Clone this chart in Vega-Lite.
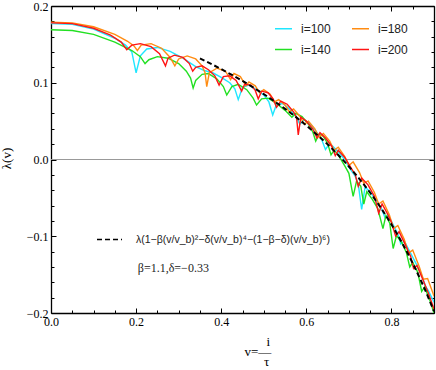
{
  "$schema": "https://vega.github.io/schema/vega-lite/v6.json",
  "width": 383,
  "height": 307,
  "autosize": {"type": "none"},
  "padding": {"left": 51, "top": 6, "right": 2, "bottom": 57},
  "background": "white",
  "config": {
    "view": {"stroke": null},
    "axis": {
      "grid": false,
      "domainColor": "black",
      "domainWidth": 1.3,
      "tickColor": "black",
      "tickWidth": 1,
      "labelFont": "Liberation Serif",
      "labelFontSize": 12,
      "labelColor": "black",
      "titleFont": "Liberation Serif",
      "titleFontSize": 13,
      "titleFontWeight": "normal",
      "titleColor": "black",
      "labelOverlap": false,
      "labelFlush": false
    }
  },
  "datasets": {
    "curves": [
      {"v":0,"lam":0.177,"s":"i=100"},{"v":0.05,"lam":0.176,"s":"i=100"},{"v":0.1,"lam":0.170,"s":"i=100"},{"v":0.15,"lam":0.158,"s":"i=100"},{"v":0.175,"lam":0.149,"s":"i=100"},{"v":0.19,"lam":0.140,"s":"i=100"},{"v":0.2,"lam":0.113,"s":"i=100"},{"v":0.21,"lam":0.135,"s":"i=100"},{"v":0.225,"lam":0.144,"s":"i=100"},{"v":0.25,"lam":0.146,"s":"i=100"},{"v":0.28,"lam":0.141,"s":"i=100"},{"v":0.31,"lam":0.132,"s":"i=100"},{"v":0.34,"lam":0.121,"s":"i=100"},{"v":0.36,"lam":0.116,"s":"i=100"},{"v":0.38,"lam":0.113,"s":"i=100"},{"v":0.40,"lam":0.107,"s":"i=100"},{"v":0.42,"lam":0.100,"s":"i=100"},{"v":0.432,"lam":0.092,"s":"i=100"},{"v":0.44,"lam":0.078,"s":"i=100"},{"v":0.45,"lam":0.094,"s":"i=100"},{"v":0.465,"lam":0.097,"s":"i=100"},{"v":0.48,"lam":0.092,"s":"i=100"},{"v":0.50,"lam":0.084,"s":"i=100"},{"v":0.512,"lam":0.075,"s":"i=100"},{"v":0.521,"lam":0.058,"s":"i=100"},{"v":0.53,"lam":0.072,"s":"i=100"},{"v":0.545,"lam":0.073,"s":"i=100"},{"v":0.56,"lam":0.066,"s":"i=100"},{"v":0.575,"lam":0.056,"s":"i=100"},{"v":0.585,"lam":0.046,"s":"i=100"},{"v":0.595,"lam":0.052,"s":"i=100"},{"v":0.61,"lam":0.046,"s":"i=100"},{"v":0.625,"lam":0.035,"s":"i=100"},{"v":0.636,"lam":0.026,"s":"i=100"},{"v":0.645,"lam":0.013,"s":"i=100"},{"v":0.655,"lam":0.021,"s":"i=100"},{"v":0.675,"lam":0.010,"s":"i=100"},{"v":0.69,"lam":0.0,"s":"i=100"},{"v":0.70,"lam":-0.010,"s":"i=100"},{"v":0.715,"lam":-0.022,"s":"i=100"},{"v":0.722,"lam":-0.032,"s":"i=100"},{"v":0.73,"lam":-0.065,"s":"i=100"},{"v":0.738,"lam":-0.036,"s":"i=100"},{"v":0.75,"lam":-0.042,"s":"i=100"},{"v":0.765,"lam":-0.055,"s":"i=100"},{"v":0.775,"lam":-0.062,"s":"i=100"},{"v":0.785,"lam":-0.076,"s":"i=100"},{"v":0.792,"lam":-0.072,"s":"i=100"},{"v":0.805,"lam":-0.086,"s":"i=100"},{"v":0.815,"lam":-0.097,"s":"i=100"},{"v":0.822,"lam":-0.110,"s":"i=100"},{"v":0.83,"lam":-0.106,"s":"i=100"},{"v":0.845,"lam":-0.122,"s":"i=100"},{"v":0.86,"lam":-0.138,"s":"i=100"},{"v":0.872,"lam":-0.152,"s":"i=100"},{"v":0.88,"lam":-0.165,"s":"i=100"},{"v":0.887,"lam":-0.171,"s":"i=100"},{"v":0.9,"lam":-0.186,"s":"i=100"},
      {"v":0,"lam":0.169,"s":"i=140"},{"v":0.05,"lam":0.168,"s":"i=140"},{"v":0.1,"lam":0.163,"s":"i=140"},{"v":0.15,"lam":0.153,"s":"i=140"},{"v":0.19,"lam":0.142,"s":"i=140"},{"v":0.21,"lam":0.134,"s":"i=140"},{"v":0.221,"lam":0.125,"s":"i=140"},{"v":0.23,"lam":0.130,"s":"i=140"},{"v":0.25,"lam":0.134,"s":"i=140"},{"v":0.275,"lam":0.132,"s":"i=140"},{"v":0.30,"lam":0.125,"s":"i=140"},{"v":0.318,"lam":0.115,"s":"i=140"},{"v":0.328,"lam":0.106,"s":"i=140"},{"v":0.334,"lam":0.093,"s":"i=140"},{"v":0.34,"lam":0.103,"s":"i=140"},{"v":0.355,"lam":0.111,"s":"i=140"},{"v":0.37,"lam":0.112,"s":"i=140"},{"v":0.39,"lam":0.105,"s":"i=140"},{"v":0.405,"lam":0.095,"s":"i=140"},{"v":0.413,"lam":0.084,"s":"i=140"},{"v":0.425,"lam":0.095,"s":"i=140"},{"v":0.44,"lam":0.098,"s":"i=140"},{"v":0.46,"lam":0.091,"s":"i=140"},{"v":0.475,"lam":0.080,"s":"i=140"},{"v":0.483,"lam":0.071,"s":"i=140"},{"v":0.495,"lam":0.079,"s":"i=140"},{"v":0.51,"lam":0.080,"s":"i=140"},{"v":0.53,"lam":0.073,"s":"i=140"},{"v":0.55,"lam":0.064,"s":"i=140"},{"v":0.566,"lam":0.055,"s":"i=140"},{"v":0.575,"lam":0.060,"s":"i=140"},{"v":0.59,"lam":0.056,"s":"i=140"},{"v":0.605,"lam":0.046,"s":"i=140"},{"v":0.615,"lam":0.036,"s":"i=140"},{"v":0.622,"lam":0.024,"s":"i=140"},{"v":0.63,"lam":0.033,"s":"i=140"},{"v":0.64,"lam":0.030,"s":"i=140"},{"v":0.65,"lam":0.021,"s":"i=140"},{"v":0.658,"lam":0.006,"s":"i=140"},{"v":0.665,"lam":0.012,"s":"i=140"},{"v":0.675,"lam":0.006,"s":"i=140"},{"v":0.69,"lam":-0.008,"s":"i=140"},{"v":0.70,"lam":-0.018,"s":"i=140"},{"v":0.71,"lam":-0.048,"s":"i=140"},{"v":0.718,"lam":-0.028,"s":"i=140"},{"v":0.728,"lam":-0.035,"s":"i=140"},{"v":0.735,"lam":-0.058,"s":"i=140"},{"v":0.742,"lam":-0.042,"s":"i=140"},{"v":0.755,"lam":-0.052,"s":"i=140"},{"v":0.768,"lam":-0.064,"s":"i=140"},{"v":0.78,"lam":-0.090,"s":"i=140"},{"v":0.787,"lam":-0.073,"s":"i=140"},{"v":0.796,"lam":-0.083,"s":"i=140"},{"v":0.804,"lam":-0.116,"s":"i=140"},{"v":0.812,"lam":-0.099,"s":"i=140"},{"v":0.825,"lam":-0.109,"s":"i=140"},{"v":0.835,"lam":-0.121,"s":"i=140"},{"v":0.843,"lam":-0.140,"s":"i=140"},{"v":0.85,"lam":-0.134,"s":"i=140"},{"v":0.862,"lam":-0.147,"s":"i=140"},{"v":0.871,"lam":-0.172,"s":"i=140"},{"v":0.878,"lam":-0.166,"s":"i=140"},{"v":0.89,"lam":-0.183,"s":"i=140"},{"v":0.9,"lam":-0.200,"s":"i=140"},
      {"v":0,"lam":0.179,"s":"i=180"},{"v":0.05,"lam":0.178,"s":"i=180"},{"v":0.1,"lam":0.173,"s":"i=180"},{"v":0.15,"lam":0.163,"s":"i=180"},{"v":0.18,"lam":0.154,"s":"i=180"},{"v":0.195,"lam":0.148,"s":"i=180"},{"v":0.203,"lam":0.142,"s":"i=180"},{"v":0.212,"lam":0.149,"s":"i=180"},{"v":0.235,"lam":0.151,"s":"i=180"},{"v":0.26,"lam":0.145,"s":"i=180"},{"v":0.28,"lam":0.133,"s":"i=180"},{"v":0.291,"lam":0.122,"s":"i=180"},{"v":0.30,"lam":0.131,"s":"i=180"},{"v":0.32,"lam":0.135,"s":"i=180"},{"v":0.34,"lam":0.131,"s":"i=180"},{"v":0.355,"lam":0.122,"s":"i=180"},{"v":0.362,"lam":0.113,"s":"i=180"},{"v":0.366,"lam":0.095,"s":"i=180"},{"v":0.372,"lam":0.113,"s":"i=180"},{"v":0.39,"lam":0.119,"s":"i=180"},{"v":0.41,"lam":0.115,"s":"i=180"},{"v":0.422,"lam":0.104,"s":"i=180"},{"v":0.43,"lam":0.112,"s":"i=180"},{"v":0.445,"lam":0.108,"s":"i=180"},{"v":0.458,"lam":0.096,"s":"i=180"},{"v":0.465,"lam":0.101,"s":"i=180"},{"v":0.48,"lam":0.096,"s":"i=180"},{"v":0.49,"lam":0.087,"s":"i=180"},{"v":0.50,"lam":0.091,"s":"i=180"},{"v":0.515,"lam":0.085,"s":"i=180"},{"v":0.525,"lam":0.075,"s":"i=180"},{"v":0.535,"lam":0.078,"s":"i=180"},{"v":0.55,"lam":0.071,"s":"i=180"},{"v":0.56,"lam":0.062,"s":"i=180"},{"v":0.57,"lam":0.066,"s":"i=180"},{"v":0.585,"lam":0.056,"s":"i=180"},{"v":0.595,"lam":0.046,"s":"i=180"},{"v":0.605,"lam":0.050,"s":"i=180"},{"v":0.62,"lam":0.040,"s":"i=180"},{"v":0.63,"lam":0.029,"s":"i=180"},{"v":0.64,"lam":0.034,"s":"i=180"},{"v":0.655,"lam":0.024,"s":"i=180"},{"v":0.665,"lam":0.012,"s":"i=180"},{"v":0.675,"lam":0.016,"s":"i=180"},{"v":0.69,"lam":0.004,"s":"i=180"},{"v":0.70,"lam":-0.008,"s":"i=180"},{"v":0.71,"lam":-0.003,"s":"i=180"},{"v":0.725,"lam":-0.017,"s":"i=180"},{"v":0.735,"lam":-0.031,"s":"i=180"},{"v":0.745,"lam":-0.028,"s":"i=180"},{"v":0.76,"lam":-0.043,"s":"i=180"},{"v":0.77,"lam":-0.058,"s":"i=180"},{"v":0.78,"lam":-0.054,"s":"i=180"},{"v":0.795,"lam":-0.072,"s":"i=180"},{"v":0.805,"lam":-0.090,"s":"i=180"},{"v":0.815,"lam":-0.086,"s":"i=180"},{"v":0.83,"lam":-0.104,"s":"i=180"},{"v":0.84,"lam":-0.122,"s":"i=180"},{"v":0.85,"lam":-0.118,"s":"i=180"},{"v":0.865,"lam":-0.139,"s":"i=180"},{"v":0.875,"lam":-0.156,"s":"i=180"},{"v":0.885,"lam":-0.155,"s":"i=180"},{"v":0.9,"lam":-0.178,"s":"i=180"},
      {"v":0,"lam":0.178,"s":"i=200"},{"v":0.05,"lam":0.177,"s":"i=200"},{"v":0.1,"lam":0.171,"s":"i=200"},{"v":0.14,"lam":0.162,"s":"i=200"},{"v":0.165,"lam":0.153,"s":"i=200"},{"v":0.178,"lam":0.143,"s":"i=200"},{"v":0.19,"lam":0.149,"s":"i=200"},{"v":0.21,"lam":0.151,"s":"i=200"},{"v":0.235,"lam":0.147,"s":"i=200"},{"v":0.255,"lam":0.138,"s":"i=200"},{"v":0.269,"lam":0.122,"s":"i=200"},{"v":0.275,"lam":0.132,"s":"i=200"},{"v":0.29,"lam":0.136,"s":"i=200"},{"v":0.31,"lam":0.133,"s":"i=200"},{"v":0.325,"lam":0.125,"s":"i=200"},{"v":0.333,"lam":0.115,"s":"i=200"},{"v":0.34,"lam":0.120,"s":"i=200"},{"v":0.355,"lam":0.122,"s":"i=200"},{"v":0.37,"lam":0.117,"s":"i=200"},{"v":0.385,"lam":0.109,"s":"i=200"},{"v":0.395,"lam":0.097,"s":"i=200"},{"v":0.405,"lam":0.108,"s":"i=200"},{"v":0.42,"lam":0.109,"s":"i=200"},{"v":0.435,"lam":0.103,"s":"i=200"},{"v":0.448,"lam":0.089,"s":"i=200"},{"v":0.455,"lam":0.098,"s":"i=200"},{"v":0.47,"lam":0.097,"s":"i=200"},{"v":0.48,"lam":0.090,"s":"i=200"},{"v":0.487,"lam":0.079,"s":"i=200"},{"v":0.495,"lam":0.089,"s":"i=200"},{"v":0.51,"lam":0.087,"s":"i=200"},{"v":0.522,"lam":0.079,"s":"i=200"},{"v":0.53,"lam":0.068,"s":"i=200"},{"v":0.54,"lam":0.076,"s":"i=200"},{"v":0.555,"lam":0.072,"s":"i=200"},{"v":0.57,"lam":0.062,"s":"i=200"},{"v":0.577,"lam":0.055,"s":"i=200"},{"v":0.581,"lam":0.032,"s":"i=200"},{"v":0.587,"lam":0.055,"s":"i=200"},{"v":0.60,"lam":0.050,"s":"i=200"},{"v":0.615,"lam":0.040,"s":"i=200"},{"v":0.625,"lam":0.028,"s":"i=200"},{"v":0.632,"lam":0.035,"s":"i=200"},{"v":0.645,"lam":0.028,"s":"i=200"},{"v":0.66,"lam":0.017,"s":"i=200"},{"v":0.668,"lam":0.005,"s":"i=200"},{"v":0.675,"lam":0.012,"s":"i=200"},{"v":0.69,"lam":0.003,"s":"i=200"},{"v":0.705,"lam":-0.011,"s":"i=200"},{"v":0.715,"lam":-0.020,"s":"i=200"},{"v":0.722,"lam":-0.035,"s":"i=200"},{"v":0.73,"lam":-0.024,"s":"i=200"},{"v":0.745,"lam":-0.033,"s":"i=200"},{"v":0.76,"lam":-0.048,"s":"i=200"},{"v":0.77,"lam":-0.070,"s":"i=200"},{"v":0.778,"lam":-0.058,"s":"i=200"},{"v":0.79,"lam":-0.070,"s":"i=200"},{"v":0.80,"lam":-0.082,"s":"i=200"},{"v":0.81,"lam":-0.100,"s":"i=200"},{"v":0.818,"lam":-0.094,"s":"i=200"},{"v":0.83,"lam":-0.108,"s":"i=200"},{"v":0.845,"lam":-0.126,"s":"i=200"},{"v":0.852,"lam":-0.142,"s":"i=200"},{"v":0.86,"lam":-0.138,"s":"i=200"},{"v":0.875,"lam":-0.158,"s":"i=200"},{"v":0.888,"lam":-0.176,"s":"i=200"},{"v":0.9,"lam":-0.195,"s":"i=200"}
    ],
    "fit": [
      {"v":0.35,"lam":0.1316},{"v":0.375,"lam":0.1249},{"v":0.40,"lam":0.1178},{"v":0.425,"lam":0.1102},{"v":0.45,"lam":0.1023},{"v":0.475,"lam":0.0939},{"v":0.50,"lam":0.0851},{"v":0.525,"lam":0.0758},{"v":0.55,"lam":0.0660},{"v":0.575,"lam":0.0555},{"v":0.60,"lam":0.0444},{"v":0.625,"lam":0.0324},{"v":0.65,"lam":0.0197},{"v":0.675,"lam":0.0058},{"v":0.70,"lam":-0.0091},{"v":0.725,"lam":-0.0255},{"v":0.75,"lam":-0.0433},{"v":0.775,"lam":-0.0629},{"v":0.80,"lam":-0.0846},{"v":0.825,"lam":-0.1086},{"v":0.85,"lam":-0.1352},{"v":0.875,"lam":-0.1648},{"v":0.90,"lam":-0.1978}
    ]
  },
  "layer": [
    {
      "data": {"values": [{}]},
      "mark": {"type": "rule", "color": "#999999", "strokeWidth": 1},
      "encoding": {
        "y": {"datum": 0, "type": "quantitative", "scale": {"domain": [-0.2, 0.2], "nice": false, "zero": false}, "axis": null}
      }
    },
    {
      "data": {"name": "curves"},
      "mark": {"type": "line", "strokeWidth": 1.4, "clip": true},
      "encoding": {
        "x": {
          "field": "v", "type": "quantitative",
          "scale": {"domain": [0, 0.9], "nice": false, "zero": false},
          "axis": {
            "orient": "bottom",
            "values": [0,0.05,0.1,0.15,0.2,0.25,0.3,0.35,0.4,0.45,0.5,0.55,0.6,0.65,0.7,0.75,0.8,0.85,0.9],
            "labelExpr": "abs(datum.value*5 - round(datum.value*5)) < 0.001 ? format(datum.value, '.1f') : ''",
            "tickSize": {"condition": {"test": "abs(datum.value*5 - round(datum.value*5)) < 0.001", "value": -5}, "value": -3},
            "labelPadding": 8,
            "title": ["\u200b\u2002\u2002\u2002\u2009i", "v=\u2014", "\u200b\u2002\u2002\u2002τ"],
            "titleX": 193,
            "titleY": 28,
            "titleAlign": "left",
            "titleAnchor": "start",
            "titleBaseline": "middle",
            "titleLineHeight": 10
          }
        },
        "y": {
          "field": "lam", "type": "quantitative",
          "scale": {"domain": [-0.2, 0.2], "nice": false, "zero": false},
          "axis": {
            "orient": "left",
            "values": [-0.2,-0.18,-0.16,-0.14,-0.12,-0.1,-0.08,-0.06,-0.04,-0.02,0,0.02,0.04,0.06,0.08,0.1,0.12,0.14,0.16,0.18,0.2],
            "labelExpr": "abs(datum.value*10 - round(datum.value*10)) < 0.001 ? format(datum.value, '.1f') : ''",
            "tickSize": {"condition": {"test": "abs(datum.value*10 - round(datum.value*10)) < 0.001", "value": -5}, "value": -3},
            "labelPadding": 8,
            "title": "λ(v)",
            "titleX": -45,
            "titleY": 152,
            "titleAngle": -90,
            "titleAlign": "center",
            "titleBaseline": "middle"
          }
        },
        "color": {
          "field": "s", "type": "nominal",
          "scale": {"domain": ["i=100", "i=140", "i=180", "i=200"], "range": ["#1fe6ff", "#22e022", "#ff8c12", "#ff1414"]},
          "legend": {
            "orient": "none", "legendX": 223, "legendY": 13, "columns": 2,
            "title": null, "padding": 0,
            "symbolType": "stroke", "symbolSize": 289, "symbolStrokeWidth": 1.5,
            "labelFont": "Liberation Sans", "labelFontSize": 12, "labelColor": "#222222",
            "labelOffset": 8, "rowPadding": 5, "columnPadding": 18
          }
        }
      }
    },
    {
      "data": {"name": "fit"},
      "mark": {"type": "line", "color": "black", "strokeWidth": 2, "interpolate": "monotone"},
      "encoding": {
        "x": {
          "field": "v", "type": "quantitative",
          "axis": {
            "orient": "top",
            "values": [0,0.05,0.1,0.15,0.2,0.25,0.3,0.35,0.4,0.45,0.5,0.55,0.6,0.65,0.7,0.75,0.8,0.85,0.9],
            "labels": false,
            "tickSize": {"condition": {"test": "abs(datum.value*5 - round(datum.value*5)) < 0.001", "value": -5}, "value": -3},
            "title": null
          }
        },
        "y": {
          "field": "lam", "type": "quantitative",
          "axis": {
            "orient": "right",
            "values": [-0.2,-0.18,-0.16,-0.14,-0.12,-0.1,-0.08,-0.06,-0.04,-0.02,0,0.02,0.04,0.06,0.08,0.1,0.12,0.14,0.16,0.18,0.2],
            "labels": false,
            "tickSize": {"condition": {"test": "abs(datum.value*10 - round(datum.value*10)) < 0.001", "value": -5}, "value": -3},
            "title": null
          }
        },
        "strokeDash": {
          "datum": "λ(1−β(v/v_b)²−δ(v/v_b)⁴−(1−β−δ)(v/v_b)⁶)",
          "type": "nominal",
          "scale": {"range": [[5, 3]]},
          "legend": {
            "orient": "none", "legendX": 45, "legendY": 220,
            "title": null, "padding": 0,
            "symbolType": "stroke", "symbolSize": 625, "symbolStrokeWidth": 1.6, "symbolStrokeColor": "black",
            "labelFont": "Liberation Sans", "labelFontSize": 10.5, "labelColor": "#222222",
            "labelOffset": 13, "labelLimit": 400
          }
        }
      }
    },
    {
      "data": {"values": [{}]},
      "mark": {"type": "text", "font": "Liberation Serif", "fontSize": 12, "align": "left", "baseline": "middle", "color": "#222222"},
      "encoding": {
        "x": {"datum": 0.204, "type": "quantitative", "axis": null},
        "y": {"datum": -0.141, "type": "quantitative", "axis": null},
        "text": {"value": "β=1.1,δ=−0.33"}
      }
    }
  ],
  "resolve": {"axis": {"x": "independent", "y": "independent"}}
}
